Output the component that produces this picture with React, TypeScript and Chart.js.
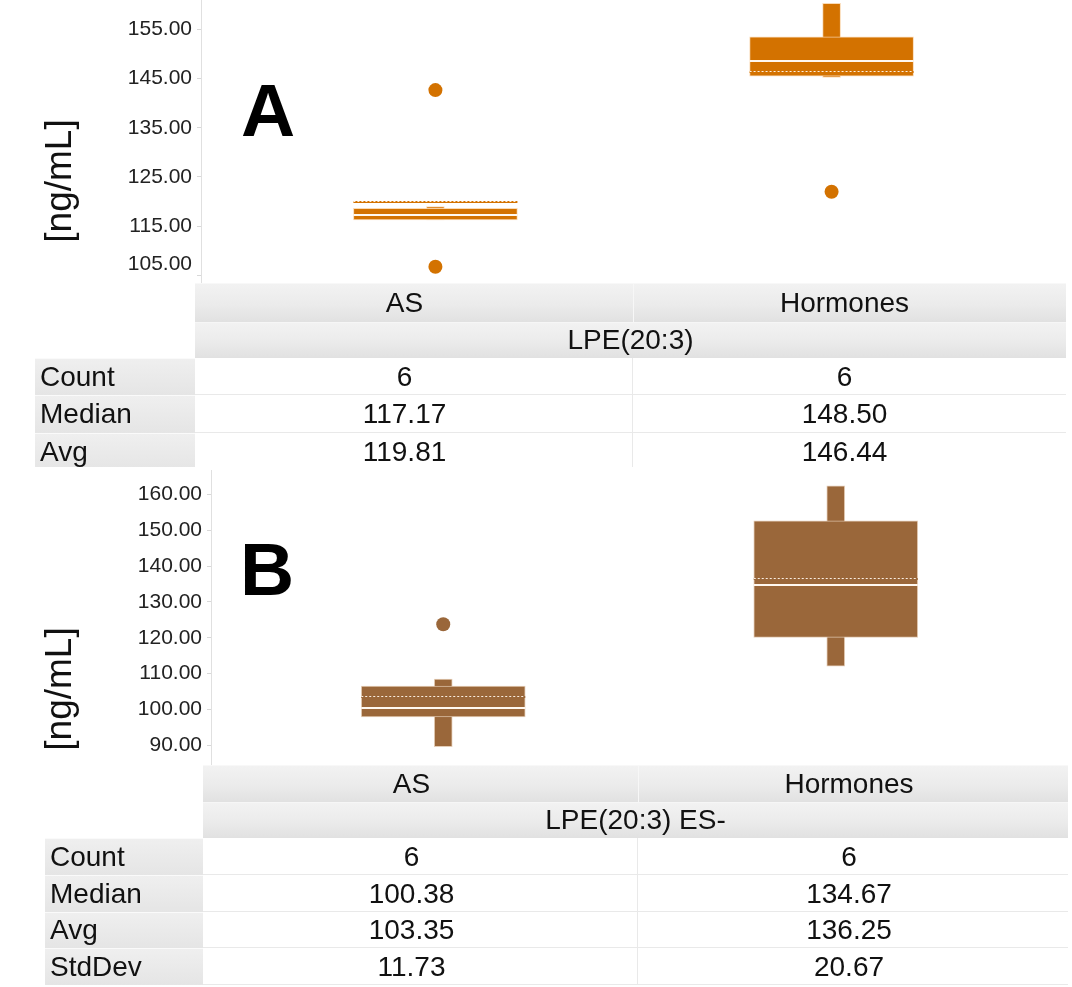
import React, { useEffect, useRef } from 'react';
import { Chart, registerables } from 'chart.js';

Chart.register(...registerables);

const FONT = '"Liberation Sans", Arial, Helvetica, sans-serif';

// ---------- shared ----------
const categories = ['AS', 'Hormones'];
const yUnit = '[ng/mL]';

// ---------- Panel A : LPE(20:3) ----------
const aTitle = 'LPE(20:3)';
const aWhiskerLow = [116.22, 145.24];
const aQ1 = [116.22, 145.5];
const aMedian = [117.17, 148.5];
const aMean = [119.81, 146.44];
const aQ3 = [118.6, 153.5];
const aWhiskerHigh = [118.95, 160.3];
const aOutliers = [[142.66, 106.72], [121.97]];
const aCount = [6, 6];
const aTicks = [105, 115, 125, 135, 145, 155];

// ---------- Panel B : LPE(20:3) ES- ----------
const bTitle = 'LPE(20:3) ES-';
const bWhiskerLow = [89.6, 112.1];
const bQ1 = [97.9, 120.1];
const bMedian = [100.38, 134.67];
const bMean = [103.35, 136.25];
const bQ3 = [106.54, 152.6];
const bWhiskerHigh = [108.5, 162.4];
const bOutliers = [[123.75], []];
const bCount = [6, 6];
const bStdDev = [11.73, 20.67];
const bTicks = [90, 100, 110, 120, 130, 140, 150, 160];

// ---------- styling / layout ----------
const BOX_SHIFT = 0.042; // boxes drawn slightly toward the middle
const BOX_PX = 164;
const WHISKER_PX = 18;
const HEADER_BG = 'linear-gradient(to bottom, #f2f2f2 0%, #ebebeb 55%, #e1e1e1 100%)';
const LABEL_BG = 'linear-gradient(to bottom, #efefef 0%, #e5e5e5 100%)';

type Panel = {
  top: number; height: number; axisWidth: number; rightPad: number;
  yMin: number; yMax: number; ticks: number[]; color: string; edge: string;
  whiskerLow: number[]; q1: number[]; median: number[]; mean: number[]; q3: number[];
  whiskerHigh: number[]; outliers: number[][]; raiseLowestTick: boolean;
};

const panelA: Panel = {
  top: 0, height: 283, axisWidth: 201, rightPad: 6,
  yMin: 103.4, yMax: 161.0, ticks: aTicks, color: '#d37200', edge: 'rgba(250,215,175,0.9)',
  whiskerLow: aWhiskerLow, q1: aQ1, median: aMedian, mean: aMean, q3: aQ3,
  whiskerHigh: aWhiskerHigh, outliers: aOutliers, raiseLowestTick: true,
};

const panelB: Panel = {
  top: 470, height: 295, axisWidth: 211, rightPad: 4,
  yMin: 84.52, yMax: 166.78, ticks: bTicks, color: '#9a673a', edge: 'rgba(225,200,175,0.9)',
  whiskerLow: bWhiskerLow, q1: bQ1, median: bMedian, mean: bMean, q3: bQ3,
  whiskerHigh: bWhiskerHigh, outliers: bOutliers, raiseLowestTick: false,
};

function BoxChart({ panel }: { panel: Panel }) {
  const ref = useRef<HTMLCanvasElement>(null);
  useEffect(() => {
    const p = panel;
    const mid = categories.length / 2;
    const pos = (i: number) => {
      const c = i + 0.5;
      return c + Math.sign(mid - c) * BOX_SHIFT;
    };
    const boxData = categories.map((_, i) => ({ x: pos(i), y: [p.q1[i], p.q3[i]] }));
    const whiskerData = categories.map((_, i) => ({ x: pos(i), y: [p.whiskerLow[i], p.whiskerHigh[i]] }));
    const outlierData = p.outliers.flatMap((vals, i) => vals.map((v) => ({ x: pos(i), y: v })));

    const linesPlugin = {
      id: 'boxLines',
      afterDatasetsDraw(chart: any) {
        const meta = chart.getDatasetMeta(1);
        const ys = chart.scales.y;
        const ctx = chart.ctx;
        ctx.save();
        meta.data.forEach((el: any, i: number) => {
          const { x, width } = el.getProps(['x', 'width'], true);
          const left = x - width / 2;
          // mean: dotted line
          const ya = Math.round(ys.getPixelForValue(p.mean[i]));
          ctx.fillStyle = p.color;
          ctx.fillRect(left, ya - 1, width, 2);
          ctx.strokeStyle = 'rgba(255,245,235,0.95)';
          ctx.lineWidth = 1;
          ctx.setLineDash([2, 2]);
          ctx.beginPath();
          ctx.moveTo(left, ya - 0.5);
          ctx.lineTo(left + width, ya - 0.5);
          ctx.stroke();
          ctx.setLineDash([]);
          // median: solid white line
          const ym = Math.round(ys.getPixelForValue(p.median[i]));
          ctx.fillStyle = '#fff8f0';
          ctx.fillRect(left, ym - 1, width, 2);
        });
        ctx.restore();
      },
    };

    const chart = new Chart(ref.current as HTMLCanvasElement, {
      type: 'bar',
      data: {
        datasets: [
          {
            type: 'scatter',
            label: 'Outliers',
            data: outlierData,
            backgroundColor: p.color,
            borderColor: p.color,
            pointRadius: 7,
            pointBorderWidth: 0,
            order: 1,
          } as any,
          {
            label: 'Box',
            data: boxData as any,
            backgroundColor: p.color,
            borderColor: p.edge,
            borderWidth: 1,
            borderSkipped: false,
            barThickness: BOX_PX,
            grouped: false,
            order: 2,
          } as any,
          {
            label: 'Whisker',
            data: whiskerData as any,
            backgroundColor: p.color,
            borderColor: p.edge,
            borderWidth: 1,
            borderSkipped: false,
            barThickness: WHISKER_PX,
            grouped: false,
            order: 3,
          } as any,
        ],
      },
      options: {
        animation: false,
        responsive: true,
        maintainAspectRatio: false,
        layout: { autoPadding: false, padding: { left: 0, right: p.rightPad, top: 0, bottom: 0 } } as any,
        plugins: { legend: { display: false }, tooltip: { enabled: false } },
        scales: {
          x: { type: 'linear', min: 0, max: categories.length, display: false, offset: false } as any,
          y: {
            type: 'linear',
            min: p.yMin,
            max: p.yMax,
            afterBuildTicks: (s: any) => {
              s.ticks = p.ticks.map((v) => ({ value: v }));
            },
            afterFit: (s: any) => {
              s.width = p.axisWidth;
              s.paddingTop = 0;
              s.paddingBottom = 0;
            },
            ticks: {
              font: { family: FONT, size: 21, lineHeight: 1 },
              color: '#222222',
              padding: 5,
              callback: (v: any) => {
                const s = Number(v).toFixed(2);
                if (p.raiseLowestTick && Number(v) === p.ticks[0]) return [s, ''];
                return s;
              },
            },
            grid: { drawOnChartArea: false, drawTicks: true, tickLength: 4, color: '#d8d8d8' },
            border: { display: true, color: '#e0e0e0', width: 1 },
          } as any,
        },
      },
      plugins: [linesPlugin],
    });
    return () => chart.destroy();
  }, [panel]);
  return (
    <div style={{ position: 'absolute', left: 0, top: panel.top, width: 1072, height: panel.height }}>
      <canvas ref={ref} />
    </div>
  );
}

type TableSpec = {
  labelCol: [number, number];
  dataCols: [number, number][];
  textCenters: number[];
  h1: [number, number];
  h2: [number, number];
  rowEdges: number[];
  title: string;
  rows: { label: string; values: string[] }[];
  clipBottom: number;
};

const tableA: TableSpec = {
  labelCol: [35, 195],
  dataCols: [[195, 633], [633, 1066]],
  textCenters: [404.5, 844.5],
  h1: [283, 322],
  h2: [322, 358],
  rowEdges: [358, 395, 433, 471],
  title: aTitle,
  rows: [
    { label: 'Count', values: aCount.map(String) },
    { label: 'Median', values: aMedian.map((v) => v.toFixed(2)) },
    { label: 'Avg', values: aMean.map((v) => v.toFixed(2)) },
  ],
  clipBottom: 467,
};

const tableB: TableSpec = {
  labelCol: [45, 203],
  dataCols: [[203, 638], [638, 1068]],
  textCenters: [411.5, 849],
  h1: [765, 802],
  h2: [802, 838],
  rowEdges: [838, 875, 912, 948, 985],
  title: bTitle,
  rows: [
    { label: 'Count', values: bCount.map(String) },
    { label: 'Median', values: bMedian.map((v) => v.toFixed(2)) },
    { label: 'Avg', values: bMean.map((v) => v.toFixed(2)) },
    { label: 'StdDev', values: bStdDev.map((v) => v.toFixed(2)) },
  ],
  clipBottom: 987,
};

const txtBase: React.CSSProperties = {
  position: 'absolute',
  display: 'flex',
  alignItems: 'center',
  fontFamily: FONT,
  fontSize: 28,
  color: '#111',
  whiteSpace: 'nowrap',
  lineHeight: 1,
};

function CenterText({ cx, top, h, text }: { cx: number; top: number; h: number; text: string }) {
  return (
    <div style={{ ...txtBase, left: cx - 250, width: 500, top, height: h, justifyContent: 'center' }}>{text}</div>
  );
}

function StatTable({ t }: { t: TableSpec }) {
  const els: React.ReactNode[] = [];
  const dataLeft = t.dataCols[0][0];
  const dataRight = t.dataCols[t.dataCols.length - 1][1];
  // header row 1: categories
  t.dataCols.forEach(([l, r], i) => {
    els.push(
      <div
        key={'h1' + i}
        style={{
          position: 'absolute', left: l, top: t.h1[0], width: r - l, height: t.h1[1] - t.h1[0],
          background: HEADER_BG, boxSizing: 'border-box',
          borderTop: '1px solid #f8f8f8',
          borderLeft: i > 0 ? '1px solid #f7f7f7' : 'none',
        }}
      />
    );
    els.push(<CenterText key={'h1t' + i} cx={t.textCenters[i]} top={t.h1[0]} h={t.h1[1] - t.h1[0]} text={categories[i]} />);
  });
  // header row 2: measure name
  els.push(
    <div
      key="h2"
      style={{
        position: 'absolute', left: dataLeft, top: t.h2[0], width: dataRight - dataLeft, height: t.h2[1] - t.h2[0],
        background: HEADER_BG, boxSizing: 'border-box', borderTop: '1px solid #f6f6f6',
      }}
    />
  );
  els.push(<CenterText key="h2t" cx={(dataLeft + dataRight) / 2} top={t.h2[0]} h={t.h2[1] - t.h2[0]} text={t.title} />);
  // body rows
  t.rows.forEach((row, r) => {
    const top = t.rowEdges[r];
    const h = t.rowEdges[r + 1] - top;
    els.push(
      <div
        key={'lb' + r}
        style={{
          position: 'absolute', left: t.labelCol[0], top, width: t.labelCol[1] - t.labelCol[0], height: h,
          background: LABEL_BG, boxSizing: 'border-box', borderTop: '1px solid #fafafa',
        }}
      />
    );
    els.push(
      <div key={'lt' + r} style={{ ...txtBase, left: t.labelCol[0] + 5, top, height: h }}>
        {row.label}
      </div>
    );
    t.dataCols.forEach(([l, rr], i) => {
      els.push(
        <div
          key={'c' + r + '_' + i}
          style={{
            position: 'absolute', left: l, top, width: rr - l, height: h, background: '#ffffff',
            boxSizing: 'border-box', borderBottom: '1px solid #e9e9e9',
            borderRight: i < t.dataCols.length - 1 ? '1px solid #e9e9e9' : 'none',
          }}
        />
      );
      els.push(<CenterText key={'ct' + r + '_' + i} cx={t.textCenters[i]} top={top} h={h} text={row.values[i]} />);
    });
  });
  return (
    <div style={{ position: 'absolute', left: 0, top: 0, width: 1072, height: t.clipBottom, overflow: 'hidden', pointerEvents: 'none' }}>
      {els}
    </div>
  );
}

function AxisTitle({ cx, cy }: { cx: number; cy: number }) {
  return (
    <div
      style={{
        position: 'absolute', left: cx, top: cy, transform: 'translate(-50%, -50%) rotate(-90deg)',
        fontFamily: FONT, fontSize: 37, color: '#111', whiteSpace: 'nowrap', lineHeight: 1,
      }}
    >
      {yUnit}
    </div>
  );
}

function PanelLetter({ left, top, text }: { left: number; top: number; text: string }) {
  return (
    <div
      style={{
        position: 'absolute', left, top, fontFamily: FONT, fontWeight: 'bold', fontSize: 75,
        lineHeight: 1, color: '#000',
      }}
    >
      {text}
    </div>
  );
}

export default function App() {
  return (
    <div style={{ position: 'absolute', left: 0, top: 0, width: 1072, height: 987, background: '#ffffff', overflow: 'hidden' }}>
      <BoxChart panel={panelA} />
      <BoxChart panel={panelB} />
      <StatTable t={tableA} />
      <StatTable t={tableB} />
      <AxisTitle cx={58} cy={181} />
      <AxisTitle cx={58} cy={689} />
      <PanelLetter left={241} top={73} text="A" />
      <PanelLetter left={240} top={532} text="B" />
    </div>
  );
}
